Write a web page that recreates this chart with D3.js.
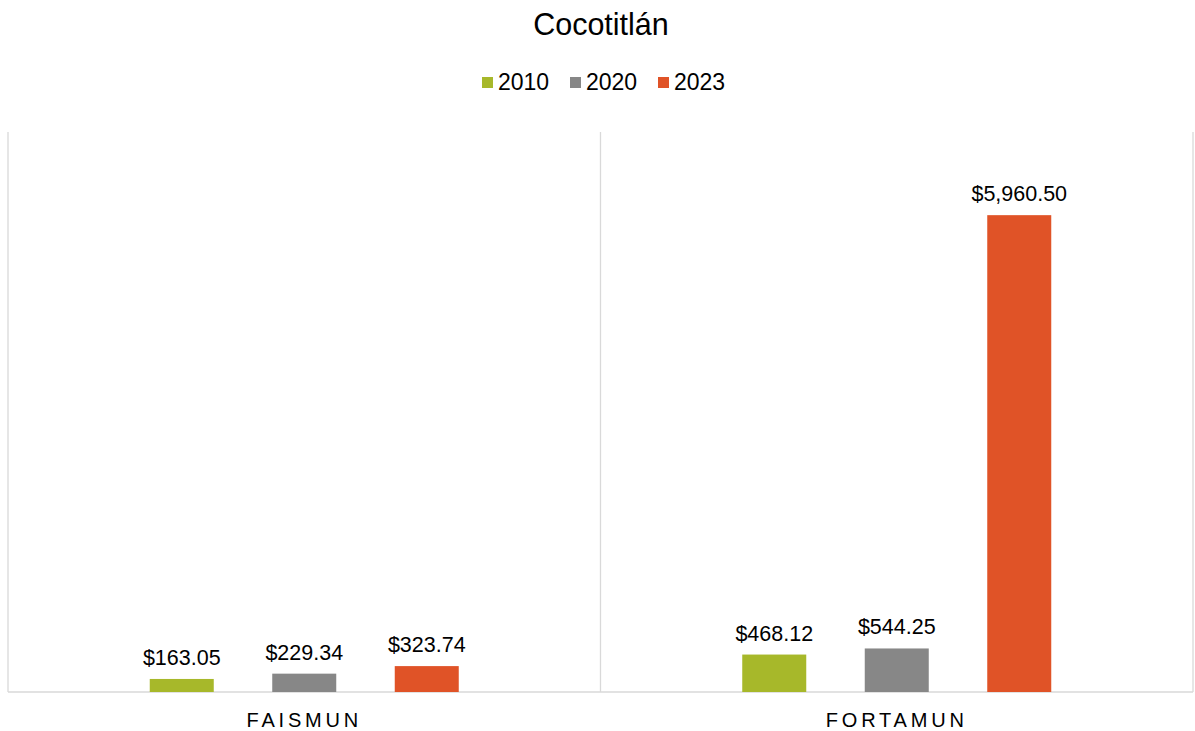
<!DOCTYPE html>
<html><head><meta charset="utf-8">
<script src="https://cdn.jsdelivr.net/npm/d3@7"></script>
<style>body{margin:0;background:#fff;font-family:Arial,"Liberation Sans",sans-serif;}</style>
</head><body>
<svg id="c" width="1195" height="731"></svg>
<script>
const categories = ["FAISMUN", "FORTAMUN"];
const seriesNames = ["2010", "2020", "2023"];
const values2010 = [163.05, 468.12];
const values2020 = [229.34, 544.25];
const values2023 = [323.74, 5960.50];
const colors = ["#A7B82A", "#878787", "#E05327"];
const seriesValues = [values2010, values2020, values2023];

const svg = d3.select("#c");
const W = 1195, H = 731;
const m = {left: 8, right: 2, top: 132, bottom: 39};
const x0 = d3.scaleBand().domain(categories).range([m.left, W - m.right]).paddingInner(0).paddingOuter(0);
const y = d3.scaleLinear().domain([0, 7000]).range([H - m.bottom, m.top]);

const bounds = [m.left, m.left + x0.bandwidth(), W - m.right];
svg.selectAll("line.sep").data(bounds).enter().append("line")
  .attr("x1", d => d).attr("x2", d => d).attr("y1", m.top).attr("y2", y(0))
  .attr("stroke", "#d9d9d9").attr("stroke-width", 1.3);
svg.append("line").attr("x1", m.left).attr("x2", W - m.right).attr("y1", y(0)).attr("y2", y(0))
  .attr("stroke", "#d9d9d9").attr("stroke-width", 1.5);

const barW = 64, step = 122.5;
const xs = d3.scalePoint().domain(seriesNames).range([-step, step]);

categories.forEach((cat, ci) => {
  const cx = x0(cat) + x0.bandwidth() / 2;
  seriesNames.forEach((s, si) => {
    const v = seriesValues[si][ci];
    const bx = cx + xs(s) - barW / 2;
    svg.append("rect").attr("x", bx).attr("y", y(v)).attr("width", barW)
      .attr("height", y(0) - y(v)).attr("fill", colors[si]);
    svg.append("text").attr("x", bx + barW / 2).attr("y", y(v) - 14)
      .attr("text-anchor", "middle").attr("font-size", 21.5).attr("fill", "#000")
      .text("$" + d3.format(",.2f")(v));
  });
  svg.append("text").attr("x", cx).attr("y", 727).attr("text-anchor", "middle")
    .attr("font-size", 20).attr("letter-spacing", "3.8px").attr("fill", "#000").text(cat);
});

svg.append("text").attr("x", 601).attr("y", 35).attr("text-anchor", "middle")
  .attr("font-size", 30.5).attr("fill", "#000").text("Cocotitlán");

const legX = [482, 570, 658];
seriesNames.forEach((s, i) => {
  svg.append("rect").attr("x", legX[i]).attr("y", 77).attr("width", 11).attr("height", 11).attr("fill", colors[i]);
  svg.append("text").attr("x", legX[i] + 16).attr("y", 90).attr("font-size", 23).attr("fill", "#000").text(s);
});
</script>
</body></html>
